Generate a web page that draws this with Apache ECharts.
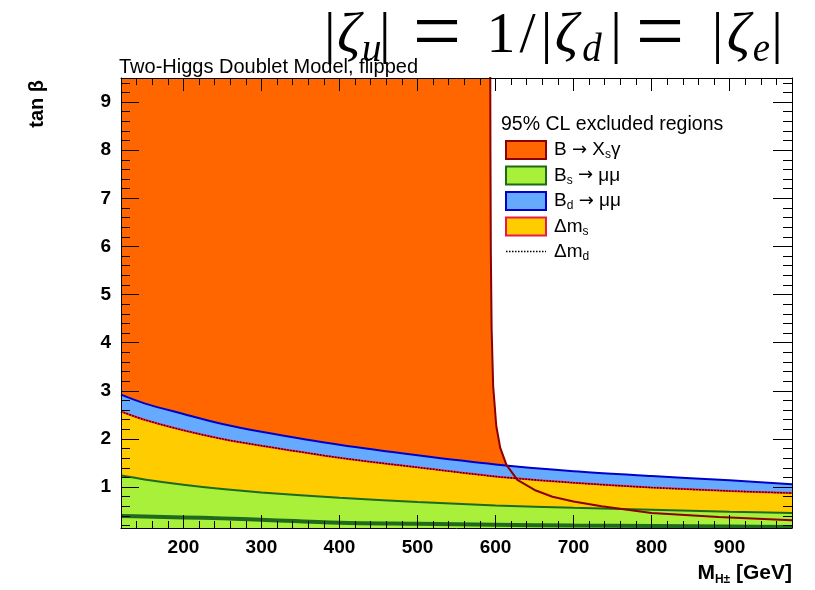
<!DOCTYPE html>
<html>
<head>
<meta charset="utf-8">
<script src="https://cdn.jsdelivr.net/npm/echarts@6/dist/echarts.min.js"></script>
<style>
  html, body { margin: 0; padding: 0; background: #fff; }
  #chart { width: 815px; height: 590px; }
</style>
</head>
<body>
<div id="chart"></div>
<script>
// Charged-Higgs mass grid (GeV) for the tan β band edges
const massGrid = [120, 150, 200, 250, 300, 400, 500, 600, 700, 800, 900, 980];

// Upper edge of each excluded band, tan β at the masses above
const bdMuMuEdge  = [2.92, 2.74, 2.52, 2.31, 2.15, 1.88, 1.66, 1.47, 1.33, 1.23, 1.14, 1.06];
const deltaMsEdge = [2.57, 2.40, 2.18, 2.00, 1.86, 1.61, 1.41, 1.22, 1.09, 0.99, 0.92, 0.875];
const deltaMdEdge = [2.57, 2.40, 2.18, 2.00, 1.86, 1.61, 1.41, 1.22, 1.09, 0.99, 0.92, 0.875];
const bsMuMuEdge  = [1.24, 1.16, 1.05, 0.96, 0.89, 0.78, 0.69, 0.62, 0.57, 0.53, 0.49, 0.46];
// second Bs -> mu mu contour near the bottom of the plot
const bsMuMuLow   = [0.40, 0.39, 0.37, 0.35, 0.32, 0.26, 0.24, 0.22, 0.20, 0.19, 0.18, 0.17];

// B -> Xs gamma boundary (mass, tan beta); excluded to the left / below
const bsgMass = [120, 593.2, 593.5, 594, 595, 597, 601, 606, 614, 628, 650, 673, 700, 736, 800, 886, 980];
const bsgTanb = [10, 10, 8.0, 5.9, 4.3, 3.1, 2.27, 1.82, 1.46, 1.15, 0.94, 0.80, 0.70, 0.60, 0.46, 0.38, 0.31];

// Axis ranges and tick labels
const xRange = [120, 980];
const yRange = [0.15, 9.5];
const xMajorTicks = [200, 300, 400, 500, 600, 700, 800, 900];
const yMajorTicks = [1, 2, 3, 4, 5, 6, 7, 8, 9];

const xMinorTicks = [];
for (let v = 120; v <= 980; v += 20) xMinorTicks.push(v);
const yMinorTicks = [];
for (let i = 1; i <= 47; i++) yMinorTicks.push(+(i * 0.2).toFixed(1));

const pairs = (xs, ys) => xs.map((x, i) => [x, ys[i]]);

const SANS = 'Liberation Sans, Arial, Helvetica, sans-serif';
const SERIF = 'Liberation Serif, Times New Roman, serif';

const legendNames = {
  bsg: 'B {a|\u2192} X{s|s}\u03b3',
  bs:  'B{s|s} {a|\u2192} \u03bc\u03bc',
  bd:  'B{s|d} {a|\u2192} \u03bc\u03bc',
  dms: '\u0394m{s|s}',
  dmd: '\u0394m{s|d}'
};

// Title: |ζ_u| = 1/|ζ_d| = |ζ_e| set as rich-text pieces with math-style spacing
const TITLE_SIZE = 58;
const SUB_SIZE = 39;
const mathPiece = (w, opts) => Object.assign({
  fontFamily: SERIF, fontSize: TITLE_SIZE, color: '#000', width: w
}, opts || {});
const zeta = w => mathPiece(w, { fontStyle: 'italic' });
const sub = w => mathPiece(w, { fontStyle: 'italic', fontSize: SUB_SIZE, padding: [27, 0, 0, 0] });
const equals = w => mathPiece(w, { align: 'center', fontSize: 86, lineHeight: TITLE_SIZE });
const titleRich = {
  b0: mathPiece(13), z1: zeta(25), s1: sub(17), b1: mathPiece(26),
  eq1: equals(64), sp1: mathPiece(18),
  one: mathPiece(28), sl: mathPiece(25), b2: mathPiece(13),
  z2: zeta(27), s2: sub(24), b3: mathPiece(24),
  eq2: equals(64), sp2: mathPiece(19),
  b4: mathPiece(13), z3: zeta(29), s3: sub(17), b5: mathPiece(14)
};
const titleText =
  '{b0||}{z1|\u03b6}{s1|u}{b1||}{eq1|=}{sp1| }{one|1}{sl|/}{b2||}{z2|\u03b6}{s2|d}{b3||}' +
  '{eq2|=}{sp2| }{b4||}{z3|\u03b6}{s3|e}{b5||}';

function tickAxis(opts) {
  return Object.assign({
    type: 'value',
    min: opts.range[0],
    max: opts.range[1],
    z: 20,
    splitLine: { show: false },
    axisLine: { show: !!opts.line, onZero: false, lineStyle: { color: '#000', width: 1 } },
    axisTick: {
      show: true, inside: true, length: opts.len,
      customValues: opts.ticks,
      lineStyle: { color: '#000', width: 1 }
    },
    axisLabel: opts.labels ? {
      show: true, customValues: opts.ticks, margin: 10,
      color: '#000', fontSize: 19, fontWeight: 'bold', fontFamily: SANS
    } : { show: false }
  }, opts.extra || {});
}

const chart = echarts.init(document.getElementById('chart'), null, { renderer: 'canvas' });

chart.setOption({
  animation: false,
  backgroundColor: '#fff',
  title: [
    {
      text: titleText,
      left: 324, top: 4, padding: 0,
      textStyle: {
        fontFamily: SERIF, fontSize: TITLE_SIZE, fontWeight: 'normal', color: '#000',
        rich: titleRich
      }
    },
    {
      text: 'Two-Higgs Doublet Model, flipped',
      left: 119, top: 57, padding: 0,
      textStyle: { fontFamily: SANS, fontSize: 20, fontWeight: 'normal', color: '#000' }
    },
    {
      text: '95% CL excluded regions',
      left: 501, top: 115, padding: 0,
      textStyle: { fontFamily: SANS, fontSize: 19.5, fontWeight: 'normal', color: '#000' }
    }
  ],
  grid: { left: 121, right: 23, top: 78, bottom: 62, containLabel: false },
  legend: {
    orient: 'vertical',
    left: 505, top: 140, padding: 0,
    itemWidth: 40, itemHeight: 18, itemGap: 4.5,
    selectedMode: false,
    formatter: name => legendNames[name],
    textStyle: {
      fontFamily: SANS, fontSize: 19, color: '#000', lineHeight: 18,
      padding: [0, 0, 0, 3],
      rich: {
        s: { fontFamily: SANS, fontSize: 12, color: '#000', padding: [10, 0, 0, 0] },
        a: { fontFamily: 'DejaVu Sans, sans-serif', fontSize: 18, color: '#000', lineHeight: 18 }
      }
    },
    data: [
      { name: 'bsg', icon: 'rect', itemStyle: { color: '#ff6600', borderColor: '#8b0000', borderWidth: 2 } },
      { name: 'bs',  icon: 'rect', itemStyle: { color: '#a8f03a', borderColor: '#1b6b1b', borderWidth: 2 } },
      { name: 'bd',  icon: 'rect', itemStyle: { color: '#66aaff', borderColor: '#0000cc', borderWidth: 2 } },
      { name: 'dms', icon: 'rect', itemStyle: { color: '#ffcc00', borderColor: '#e8194a', borderWidth: 2 } },
      {
        name: 'dmd',
        itemStyle: { color: 'rgba(0,0,0,0)', borderColor: 'rgba(0,0,0,0)', borderWidth: 0, opacity: 0 },
        lineStyle: { color: '#000', width: 1.3, type: [1.5, 1.5] }
      }
    ]
  },
  xAxis: [
    tickAxis({ range: xRange, ticks: xMajorTicks, len: 13, line: true, labels: true,
      extra: {
        position: 'bottom',
        name: 'M{s|H\u00b1} [GeV]',
        nameLocation: 'end', nameGap: 0,
        nameTextStyle: {
          fontFamily: SANS, fontSize: 21, fontWeight: 'bold', color: '#000',
          align: 'right', verticalAlign: 'top', padding: [33, 0, 0, 0],
          rich: { s: { fontFamily: SANS, fontSize: 12, fontWeight: 'bold', color: '#000', padding: [13, 0, 0, 0] } }
        }
      } }),
    tickAxis({ range: xRange, ticks: xMinorTicks, len: 7, extra: { position: 'bottom' } }),
    tickAxis({ range: xRange, ticks: xMajorTicks, len: 13, line: true, extra: { position: 'top' } }),
    tickAxis({ range: xRange, ticks: xMinorTicks, len: 7, extra: { position: 'top' } })
  ],
  yAxis: [
    tickAxis({ range: yRange, ticks: yMajorTicks, len: 18, line: true, labels: true,
      extra: {
        position: 'left',
        name: 'tan \u03b2',
        nameLocation: 'end', nameGap: 0, nameRotate: 90,
        nameTextStyle: {
          fontFamily: SANS, fontSize: 20, fontWeight: 'bold', color: '#000',
          align: 'right', verticalAlign: 'bottom', padding: [0, 2, 74, 0]
        }
      } }),
    tickAxis({ range: yRange, ticks: yMinorTicks, len: 9, extra: { position: 'left' } }),
    tickAxis({ range: yRange, ticks: yMajorTicks, len: 19, line: true, extra: { position: 'right' } }),
    tickAxis({ range: yRange, ticks: yMinorTicks, len: 9, extra: { position: 'right' } })
  ],
  series: [
    {
      name: 'bsg', type: 'line', z: 1, symbol: 'none', clip: true,
      data: pairs(bsgMass, bsgTanb),
      itemStyle: { color: '#ff6600' },
      lineStyle: { width: 0 },
      areaStyle: { color: '#ff6600', opacity: 1, origin: 'start' }
    },
    {
      name: 'bd', type: 'line', z: 2, symbol: 'none', smooth: 0.3,
      data: pairs(massGrid, bdMuMuEdge),
      itemStyle: { color: '#66aaff' },
      lineStyle: { color: '#0000cc', width: 2 },
      areaStyle: { color: '#66aaff', opacity: 1, origin: 'start' }
    },
    {
      name: 'dms', type: 'line', z: 3, symbol: 'none', smooth: 0.3,
      data: pairs(massGrid, deltaMsEdge),
      itemStyle: { color: '#ffcc00' },
      lineStyle: { color: '#ff1a40', width: 2 },
      areaStyle: { color: '#ffcc00', opacity: 1, origin: 'start' }
    },
    {
      name: 'dmd', type: 'line', z: 4, symbol: 'none', smooth: 0.3,
      data: pairs(massGrid, deltaMdEdge),
      itemStyle: { color: '#000' },
      lineStyle: { color: '#000', width: 1.3, type: [1.5, 1.5] }
    },
    {
      name: 'bs', type: 'line', z: 5, symbol: 'none', smooth: 0.3,
      data: pairs(massGrid, bsMuMuEdge),
      itemStyle: { color: '#a8f03a' },
      lineStyle: { color: '#1b6b1b', width: 2 },
      areaStyle: { color: '#a8f03a', opacity: 1, origin: 'start' }
    },
    {
      name: 'bsLow', type: 'line', z: 6, symbol: 'none', smooth: 0.3,
      data: pairs(massGrid, bsMuMuLow),
      lineStyle: { color: '#1e6a1e', width: 4 }
    },
    {
      name: 'bsgEdge', type: 'line', z: 7, symbol: 'none',
      data: pairs(bsgMass, bsgTanb),
      lineStyle: { color: '#8b0000', width: 2 }
    }
  ]
});
</script>
</body>
</html>
